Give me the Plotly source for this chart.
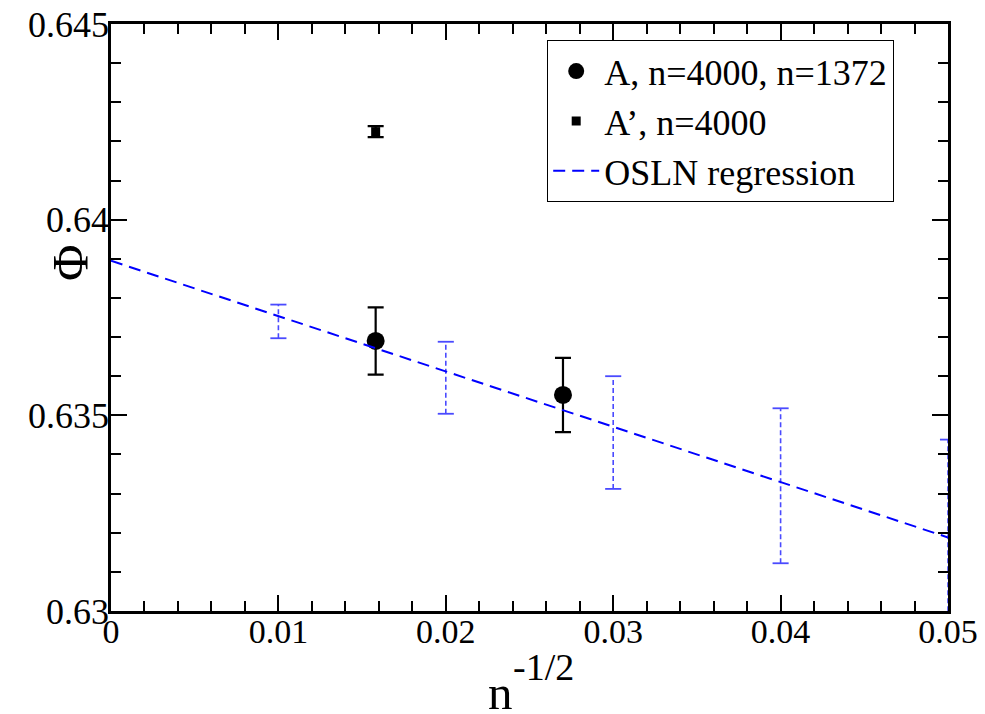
import plotly.graph_objects as go

# ---- data ----
a_x = [0.01581, 0.02700]
a_y = [0.63690, 0.63552]
a_err = [0.00086, 0.00095]

ap_x = [0.01581]
ap_y = [0.64225]
ap_err = [0.00014]

reg_x = [0.0, 0.05]
reg_y = [0.63895, 0.63188]

osln_x = [0.01, 0.02, 0.03, 0.04, 0.05]
osln_y = [0.63740, 0.63596, 0.63456, 0.63320, 0.63188]
osln_err = [0.00043, 0.00092, 0.00144, 0.00198, 0.00250]

x_ticks = [0, 0.01, 0.02, 0.03, 0.04, 0.05]
y_ticks = [0.63, 0.635, 0.64, 0.645]

FONT = "Liberation Serif"
BLUE_EB = "#4a4aff"
CAP_HALF = 0.00048  # half width of caps in x units

# plot area in page pixels
L, R, T, B = 111, 948, 24, 611
W, H = 985, 714


def px(xp):
    return (xp - L) / (R - L)


def py(yp):
    return (B - yp) / (B - T)


# build dashed error bar stems and caps from the data
stem_x, stem_y, cap_x, cap_y = [], [], [], []
for x, y, e in zip(osln_x, osln_y, osln_err):
    stem_x += [x, x, None]
    stem_y += [y - e, y + e, None]
    for yy in (y - e, y + e):
        cap_x += [x - CAP_HALF, x + CAP_HALF, None]
        cap_y += [yy, yy, None]

fig = go.Figure()

fig.add_trace(go.Scatter(x=stem_x, y=stem_y, mode="lines",
                         line=dict(color=BLUE_EB, width=1.6, dash="5px,3px"),
                         showlegend=False, hoverinfo="skip"))
fig.add_trace(go.Scatter(x=cap_x, y=cap_y, mode="lines",
                         line=dict(color=BLUE_EB, width=1.8),
                         showlegend=False, hoverinfo="skip"))

fig.add_trace(go.Scatter(x=a_x, y=a_y, mode="markers", name="A, n=4000, n=1372",
                         marker=dict(symbol="circle", size=18, color="black"),
                         error_y=dict(type="data", array=a_err, color="black",
                                      thickness=2.2, width=8)))
fig.add_trace(go.Scatter(x=ap_x, y=ap_y, mode="markers", name="A’, n=4000",
                         marker=dict(symbol="square", size=9, color="black"),
                         error_y=dict(type="data", array=ap_err, color="black",
                                      thickness=2.2, width=8)))
fig.add_trace(go.Scatter(x=reg_x, y=reg_y, mode="lines", name="OSLN regression",
                         line=dict(color="#0000ff", width=2, dash="12px,7px")))

axis_common = dict(
    showgrid=False, zeroline=False, showline=True, linecolor="black", linewidth=2.5,
    mirror="allticks", ticks="inside", ticklen=16, tickwidth=2, tickcolor="black",
    automargin=False, layer="above traces",
)

fig.update_xaxes(range=[0, 0.05], tickvals=x_ticks,
                 ticktext=[f"{v:g}" for v in x_ticks], ticklabelstandoff=-12,
                 tickfont=dict(family=FONT, size=34, color="black"),
                 minor=dict(dtick=0.002, tick0=0, ticks="inside", ticklen=10,
                            tickwidth=2, tickcolor="black", showgrid=False),
                 **axis_common)
fig.update_yaxes(range=[0.63, 0.645], tickvals=y_ticks,
                 ticktext=[f"{v:g}" for v in y_ticks], ticklabelstandoff=-8,
                 tickfont=dict(family=FONT, size=36, color="black"),
                 minor=dict(dtick=0.001, tick0=0.63, ticks="inside", ticklen=10,
                            tickwidth=2, tickcolor="black", showgrid=False),
                 **axis_common)

fig.add_annotation(text="Φ", xref="paper", yref="paper", x=px(70), y=py(263),
                   textangle=-90, showarrow=False,
                   font=dict(family=FONT, size=50, color="black"),
                   xanchor="center", yanchor="middle")
fig.add_annotation(text="-1/2", xref="paper", yref="paper", x=px(543), y=py(667),
                   showarrow=False, font=dict(family=FONT, size=38, color="black"),
                   xanchor="center", yanchor="middle")
fig.add_annotation(text="n", xref="paper", yref="paper", x=px(500), y=py(692),
                   showarrow=False, font=dict(family=FONT, size=49, color="black"),
                   xanchor="center", yanchor="middle")

fig.update_layout(
    width=W, height=H,
    margin=dict(l=L, r=W - R, t=T, b=H - B),
    paper_bgcolor="white", plot_bgcolor="white",
    font=dict(family=FONT, color="black"),
    legend=dict(x=px(547), y=py(40), xanchor="left", yanchor="top",
                bordercolor="black", borderwidth=1.2, bgcolor="white",
                font=dict(family=FONT, size=36, color="black"),
                itemwidth=46, tracegroupgap=0),
)

# remove the default 8px page margin so the figure sits at the window's corner
fig.write_html("out.html", config={"displayModeBar": False},
               post_script="document.body.style.margin='0';"
                           "document.body.style.overflow='hidden';")
